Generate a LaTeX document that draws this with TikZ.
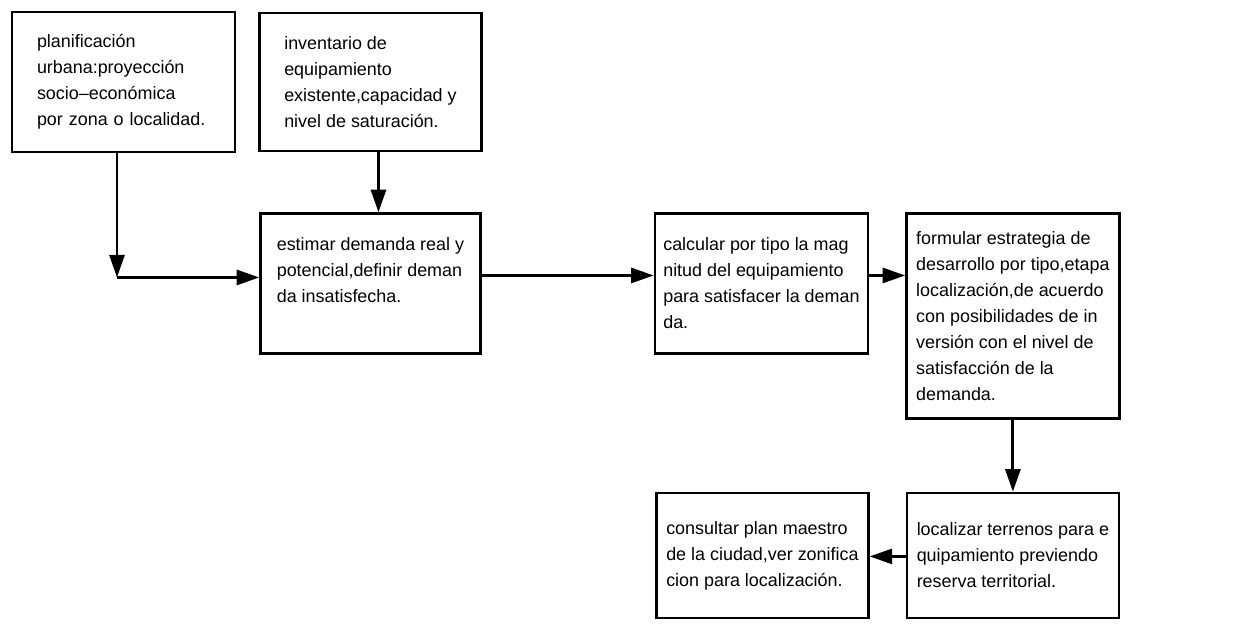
\documentclass[tikz,border=0pt]{standalone}
\usepackage{fontspec}
\setmainfont{Liberation Sans}
\usetikzlibrary{arrows.meta, positioning}

\begin{document}
\begin{tikzpicture}[
    stage/.style={draw, line width=1.4pt, align=left, minimum width=4.26cm, minimum height=2.8cm, font=\fontsize{10.2}{14.8}\selectfont},
    arr/.style={-{Triangle[length=0.45cm, width=0.3cm]}, line width=1.6pt}
]
\useasboundingbox (0,0) rectangle (24.94,-12.56);

\node[stage, text width=3.46cm, inner xsep=0.5cm] (b1) at (2.47,-1.64) {planificación\\ urbana:proyección\\ socio–económica\\ por zona o localidad.};
\node[stage, minimum width=4.44cm, minimum height=2.76cm, right=0.44cm of b1] (b2) {inventario de\\ equipamiento\\ existente,capacidad y\\ nivel de saturación.};
\node[stage, minimum width=4.40cm, below=1.2cm of b2] (b3) {estimar demanda real y\\ potencial,definir deman\\ da insatisfecha.\\ \mbox{}};
\node[stage, right=3.44cm of b3] (b4) {calcular por tipo la mag\\ nitud del equipamiento\\ para satisfacer la deman\\ da.};
\node[stage, minimum height=4.1cm, anchor=north west] (b5) at ([xshift=0.72cm]b4.north east) {formular estrategia de\\ desarrollo por tipo,etapa\\ localización,de acuerdo\\ con posibilidades de in\\ versión con el nivel de\\ satisfacción de la\\ demanda.};
\node[stage, minimum width=4.24cm, minimum height=2.5cm, below=1.44cm of b5] (b6) {localizar terrenos para e\\ quipamiento previendo\\ reserva territorial.};
\node[stage, minimum width=4.24cm, minimum height=2.5cm, left=0.72cm of b6] (b7) {consultar plan maestro\\ de la ciudad,ver zonifica\\ cion para localización.};

% corner below the first box
\coordinate (in3) at ([yshift=0.12cm]b3.west);
\coordinate (out1) at ([xshift=-0.13cm]b1.south);
\coordinate (c1) at (out1 |- in3);

\draw[arr] (out1) -- (c1);
\draw[arr] (c1) -- (in3);
\draw[arr] ([xshift=0.16cm]b2.south) -- ([xshift=0.16cm]b2.south |- b3.north);
\draw[arr] ([yshift=0.16cm]b3.east) -- ([yshift=0.16cm]b4.west);
\draw[arr] ([yshift=0.16cm]b4.east) -- ([yshift=0.16cm]b4.east -| b5.west);
\draw[arr] (b5.south) -- (b5.south |- b6.north);
\draw[arr] ([yshift=-0.02cm]b6.west) -- ([yshift=-0.02cm]b7.east);
\end{tikzpicture}
\end{document}
